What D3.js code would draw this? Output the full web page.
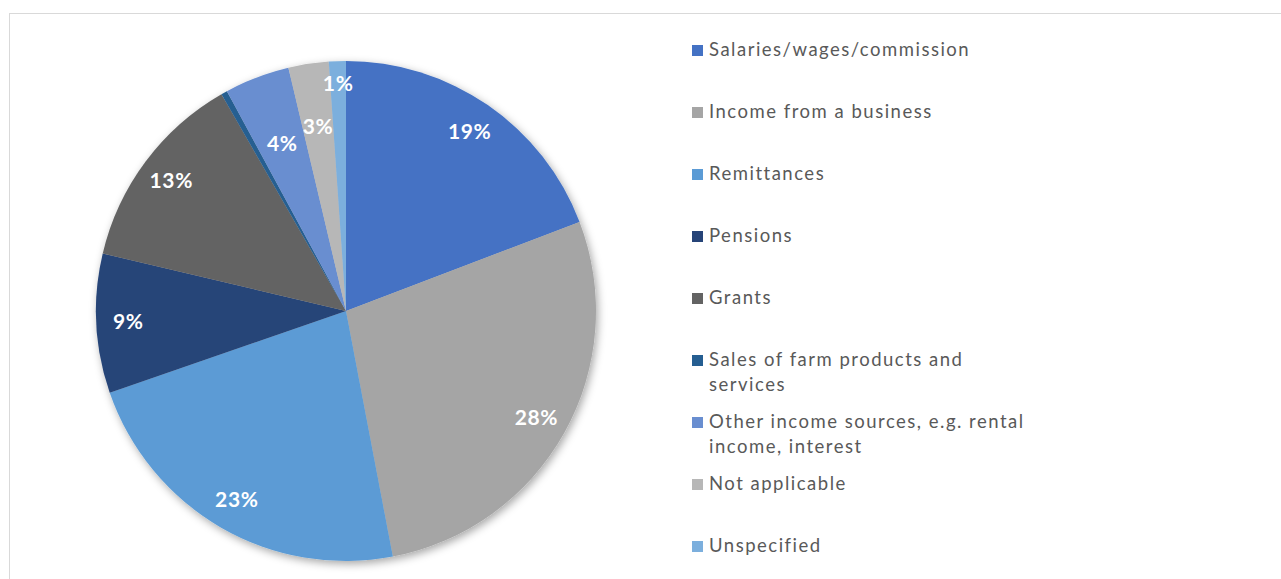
<!DOCTYPE html>
<html>
<head>
<meta charset="utf-8">
<script src="https://cdn.jsdelivr.net/npm/d3@7"></script>
<style>
  html, body { margin: 0; padding: 0; background: #fff; }
  svg { display: block; }
</style>
</head>
<body>
<svg id="chart" width="1281" height="579"></svg>
<script>
// Main sources of household income (share of households, %)
const categories = [
  "Salaries/wages/commission",
  "Income from a business",
  "Remittances",
  "Pensions",
  "Grants",
  "Sales of farm products and services",
  "Other income sources, e.g. rental income, interest",
  "Not applicable",
  "Unspecified"
];
const shares = [19.2, 27.8, 22.7, 9.0, 13.0, 0.4, 4.2, 2.6, 1.1];
const colors = ["#4472C4", "#A5A5A5", "#5B9BD5", "#264478", "#636363",
                "#255E91", "#698ED0", "#B7B7B7", "#7CAFDD"];
// Legend lines (long names wrap onto a second line)
const legendLines = [
  ["Salaries/wages/commission"],
  ["Income from a business"],
  ["Remittances"],
  ["Pensions"],
  ["Grants"],
  ["Sales of farm products and", "services"],
  ["Other income sources, e.g. rental", "income, interest"],
  ["Not applicable"],
  ["Unspecified"]
];

const data = categories.map((c, i) => ({ name: c, value: shares[i], color: colors[i], lines: legendLines[i] }));

const svg = d3.select("#chart");

// chart area frame
svg.append("rect")
  .attr("x", 9.5).attr("y", 13.5)
  .attr("width", 1400).attr("height", 700)
  .attr("fill", "none").attr("stroke", "#D9D9D9").attr("stroke-width", 1);

const defs = svg.append("defs");
const shadow = defs.append("filter").attr("id", "pieShadow")
  .attr("x", "-20%").attr("y", "-20%").attr("width", "140%").attr("height", "140%");
shadow.append("feDropShadow")
  .attr("dx", 2).attr("dy", 3).attr("stdDeviation", 4)
  .attr("flood-color", "#000").attr("flood-opacity", 0.35);

const cx = 346, cy = 311, radius = 250;

const pie = d3.pie().value(d => d.value).sort(null);
const arcs = pie(data);
const arc = d3.arc().innerRadius(0).outerRadius(radius);

const g = svg.append("g").attr("transform", `translate(${cx},${cy})`);

g.append("g").attr("filter", "url(#pieShadow)")
  .selectAll("path")
  .data(arcs)
  .join("path")
  .attr("d", arc)
  .attr("fill", d => d.data.color);

// data labels: rounded percentages, best-fit radius for the narrow slices
const pct = d3.format(".0f");
const labelRadius = d => {
  const v = d.data.value;
  if (v < 2) return 227;
  if (v < 3) return 186;
  if (v < 5) return 179;
  return 218;
};
g.append("g")
  .selectAll("text")
  .data(arcs.filter(d => d.data.value >= 0.5))
  .join("text")
  .attr("transform", d => {
    const a = (d.startAngle + d.endAngle) / 2;
    const r = labelRadius(d);
    return `translate(${r * Math.sin(a)},${-r * Math.cos(a)})`;
  })
  .attr("text-anchor", "middle")
  .attr("dy", "0.35em")
  .attr("fill", "#fff")
  .attr("font-family", "Lato, 'Open Sans', sans-serif")
  .attr("font-weight", 700)
  .attr("font-size", 21)
  .attr("letter-spacing", 0.6)
  .text(d => pct(d.data.value) + "%");

// legend
const legendY = d3.scalePoint().domain(categories).range([56, 552]);
const legend = svg.append("g");
const item = legend.selectAll("g")
  .data(data)
  .join("g")
  .attr("transform", d => `translate(692,${legendY(d.name)})`);

item.append("rect")
  .attr("x", 0).attr("y", -11)
  .attr("width", 11).attr("height", 11)
  .attr("fill", d => d.color);

item.append("text")
  .attr("x", 17).attr("y", 0)
  .attr("fill", "#595959")
  .attr("font-family", "Lato, 'Open Sans', sans-serif")
  .attr("font-size", 18.5)
  .attr("letter-spacing", 1.5)
  .selectAll("tspan")
  .data(d => d.lines)
  .join("tspan")
  .attr("x", 17)
  .attr("dy", (l, i) => i === 0 ? 0 : 24.5)
  .text(l => l);
</script>
</body>
</html>
